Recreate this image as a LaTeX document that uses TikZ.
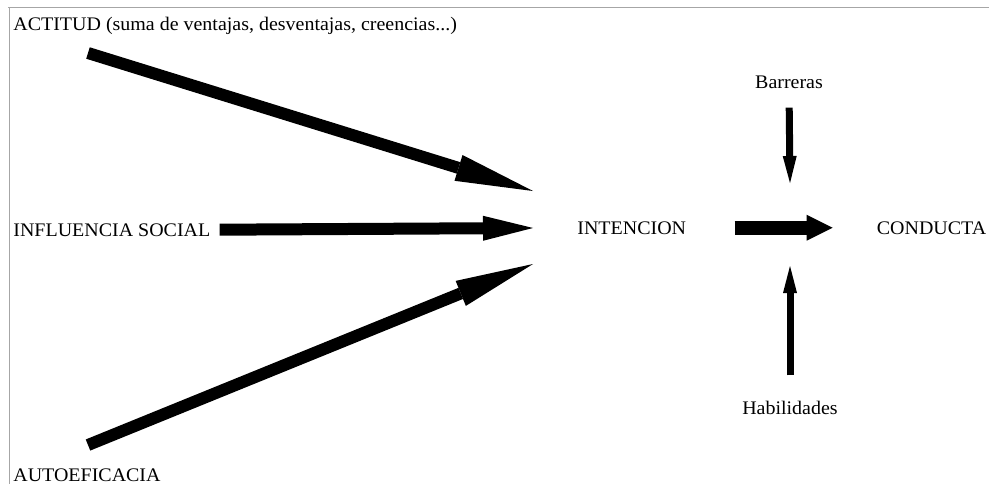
\documentclass[tikz,border=0pt]{standalone}
\usepackage{fontspec}
\setmainfont{Liberation Serif}[FakeStretch=1.04]
\usetikzlibrary{arrows.meta,positioning}

\begin{document}
\begin{tikzpicture}
  [x=0.5pt,y=-0.5pt,
  concepto/.style={inner sep=0pt, font=\fontsize{9.6}{11}\selectfont},
  flecha/.style={line width=6pt, -{Triangle[length=39pt,width=13.5pt,line width=0pt]}},
  flecha2/.style={line width=6pt, -{Triangle[length=25pt,width=12.5pt,line width=0pt]}},
  flecha3/.style={line width=7pt, -{Triangle[length=13pt,width=13pt,line width=0pt]}},
  flecha4/.style={line width=3.5pt, -{Triangle[length=13.5pt,width=7pt,line width=0pt]}},
  marco/.style={black!35, line width=0.5pt}]
  \useasboundingbox (0,0) rectangle (989,484);
  \draw [marco] (8,7) -- (989,7);
  \draw [marco] (9,7) -- (9,484);
  \node (Actitud) [concepto, anchor=base west] at (13,30) {ACTITUD (suma de ventajas, desventajas, creencias...)};
  \node (Influencia) [concepto, anchor=base west] at (13,236) {INFLUENCIA SOCIAL};
  \node (Autoeficacia) [concepto, anchor=base west] at (13,481) {AUTOEFICACIA};
  \node (Intencion) [concepto, anchor=base west] at (577,234) {INTENCION};
  \node (Conducta) [concepto, right=95pt of Intencion.base east, anchor=base west] {CONDUCTA};
  \node (Barreras) [concepto, anchor=base] at (789,88) {Barreras};
  \node (Habilidades) [concepto, anchor=base] at (790,414) {Habilidades};
  \coordinate (cola1) at (88,53);
  \coordinate (cola2) at (88,445);
  \coordinate (punta1) at (533,191);
  \coordinate (punta2) at (533,264);
  \coordinate (punta3) at (790,183);
  \coordinate (punta4) at (790,266);
  \draw [flecha] (cola1) -- (punta1);
  \draw [flecha] (cola2) -- (punta2);
  \draw [flecha2, shorten <=4.5pt, shorten >=22pt] (Influencia.east) -- (Intencion.west);
  \draw [flecha3, shorten <=24pt, shorten >=22pt] (Intencion.east) -- (Conducta.west);
  \draw [flecha4, shorten <=9.5pt] (Barreras.south) -- (punta3);
  \draw [flecha4, shorten <=12.5pt] (Habilidades.north) -- (punta4);
\end{tikzpicture}
\end{document}
